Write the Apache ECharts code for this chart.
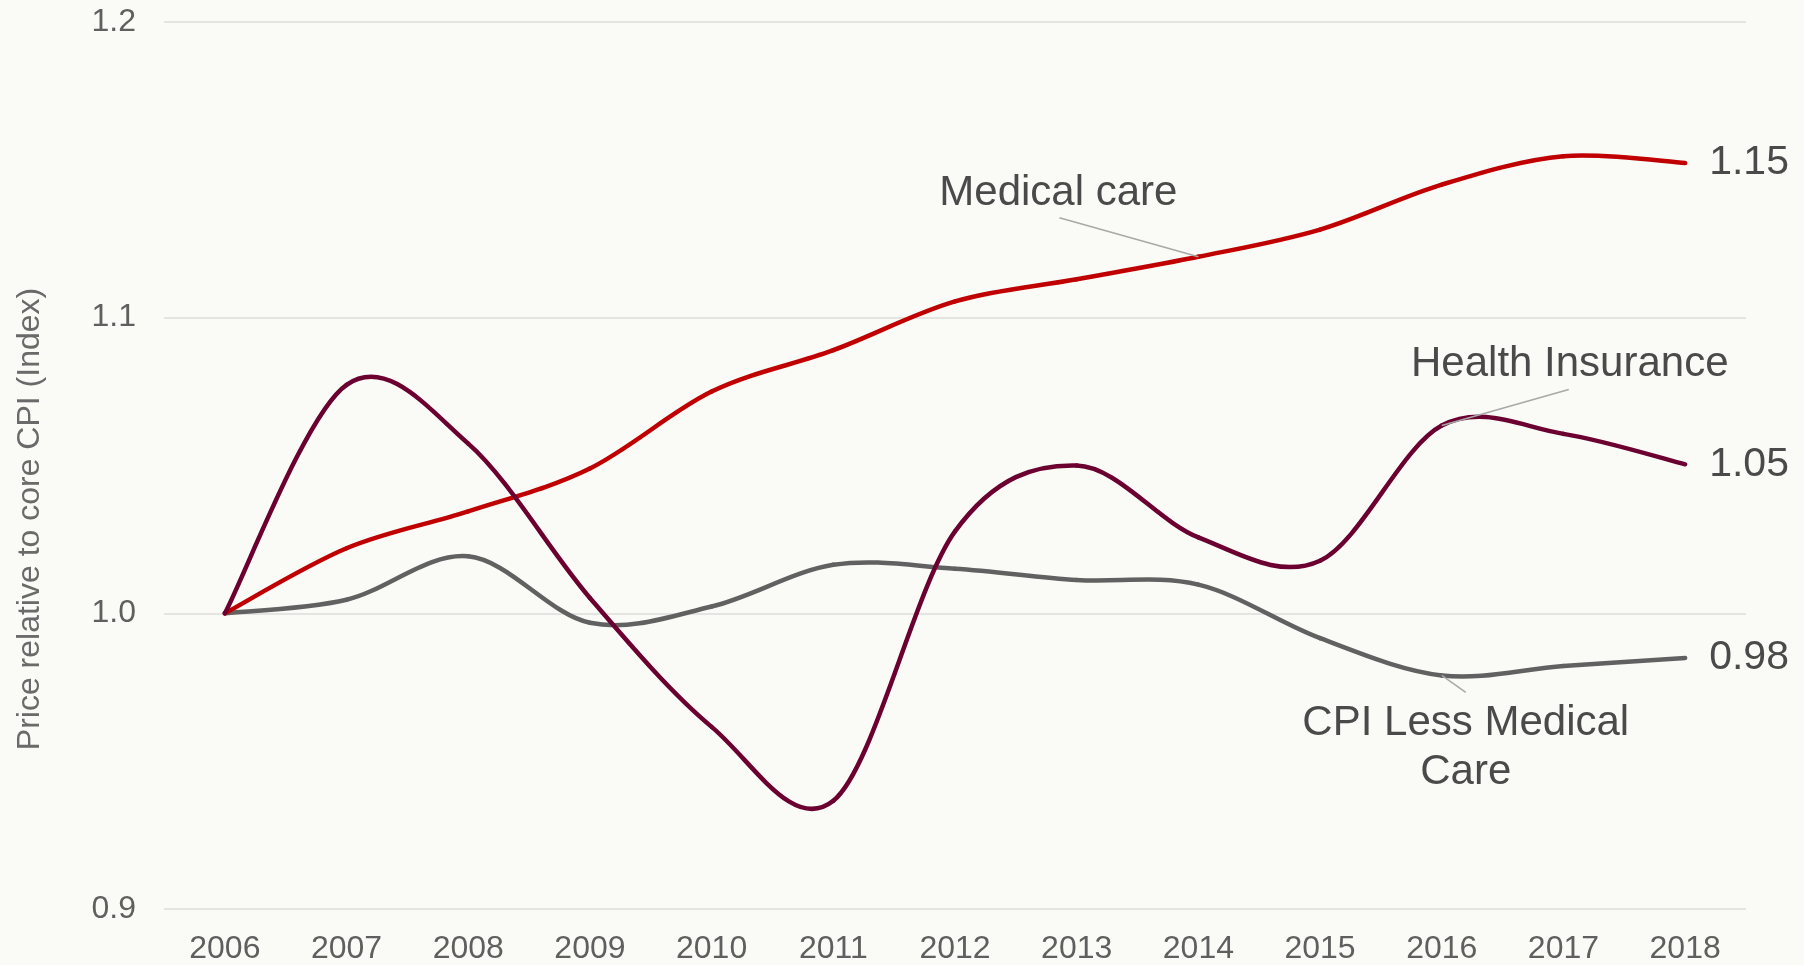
<!DOCTYPE html>
<html>
<head>
<meta charset="utf-8">
<title>Price relative to core CPI</title>
<script src="https://cdn.jsdelivr.net/npm/echarts@6/dist/echarts.min.js"></script>
<style>
  html, body { margin: 0; padding: 0; background: #fafbf6; }
  #main { width: 1804px; height: 965px; }
</style>
</head>
<body>
<div id="main"></div>
<script>
  // categories
  var years = ['2006', '2007', '2008', '2009', '2010', '2011', '2012',
               '2013', '2014', '2015', '2016', '2017', '2018'];
  // series values
  var medicalCare     = [1.000, 1.022, 1.0345, 1.049, 1.075, 1.089, 1.1055, 1.113, 1.1206, 1.1298, 1.145, 1.1546, 1.1523];
  var healthInsurance = [1.000, 1.0773, 1.0574, 1.0052, 0.9616, 0.9366, 1.0277, 1.050, 1.0257, 1.0178, 1.0635, 1.0607, 1.0504];
  var cpiLessMedical  = [1.000, 1.0046, 1.0193, 0.9968, 1.0023, 1.0164, 1.0151, 1.0113, 1.0097, 0.9916, 0.979, 0.9822, 0.9849];
  // y axis ticks
  var yMin = 0.9, yMax = 1.2, yStep = 0.1;

  var FONT = '"Liberation Sans", Arial, sans-serif';
  var TICK_COLOR = '#5f5f5f';
  var TEXT_COLOR = '#4a4a4a';

  var chart = echarts.init(document.getElementById('main'));

  // Excel-style smoothed line: one bezier segment per point, Catmull-Rom handles (1/6),
  // end value label on the last point
  function smoothSeries(name, values, color, z) {
    return {
      name: name,
      type: 'custom',
      z: z,
      data: values.map(function (v, i) { return [i, v]; }),
      encode: { x: 0, y: 1 },
      renderItem: function (params, api) {
        var n = params.dataInsideLength, i = params.dataIndexInside;
        function pt(k) {
          k = Math.max(0, Math.min(n - 1, k));
          return api.coord([api.value(0, k), api.value(1, k)]);
        }
        var p1 = pt(i);
        if (i >= n - 1) {
          return {
            type: 'text', x: p1[0] + 24, y: p1[1],
            style: {
              text: api.value(1).toFixed(2), fill: TEXT_COLOR,
              font: '41px ' + FONT, align: 'left', verticalAlign: 'middle'
            }
          };
        }
        var p0 = pt(i - 1), p2 = pt(i + 1), p3 = pt(i + 2);
        return {
          type: 'bezierCurve',
          shape: {
            x1: p1[0], y1: p1[1], x2: p2[0], y2: p2[1],
            cpx1: p1[0] + (p2[0] - p0[0]) / 6, cpy1: p1[1] + (p2[1] - p0[1]) / 6,
            cpx2: p2[0] - (p3[0] - p1[0]) / 6, cpy2: p2[1] - (p3[1] - p1[1]) / 6
          },
          style: { fill: 'none', stroke: color, lineWidth: 4.5, lineCap: 'round' }
        };
      }
    };
  }

  chart.setOption({
    backgroundColor: '#fafbf6',
    animation: false,
    grid: { left: 164, right: 58, top: 22, bottom: 56 },
    xAxis: {
      type: 'category',
      data: years,
      boundaryGap: true,
      axisLine: { show: false },
      axisTick: { show: false },
      axisLabel: { color: TICK_COLOR, fontFamily: FONT, fontSize: 32, margin: 24 }
    },
    yAxis: {
      type: 'value',
      min: yMin,
      max: yMax,
      interval: yStep,
      axisLine: { show: false },
      axisTick: { show: false },
      axisLabel: {
        color: TICK_COLOR, fontFamily: FONT, fontSize: 32, margin: 28,
        formatter: function (v) { return v.toFixed(1); }
      },
      splitLine: { lineStyle: { color: '#dcdcdc', width: 1.5 } }
    },
    series: [
      smoothSeries('CPI Less Medical Care', cpiLessMedical, '#616161', 2),
      smoothSeries('Medical care', medicalCare, '#c00000', 3),
      smoothSeries('Health Insurance', healthInsurance, '#6b0030', 4)
    ]
  });

  // annotations with leader lines, anchored on data points
  function anchor(data, i) {
    return chart.convertToPixel({ gridIndex: 0 }, [years[i], data[i]]);
  }
  function note(text, x, y) {
    return {
      type: 'text', x: x, y: y, z: 10,
      style: {
        text: text, fill: TEXT_COLOR, font: '42px ' + FONT,
        align: 'center', verticalAlign: 'middle', lineHeight: 49
      }
    };
  }
  function leader(x1, y1, x2, y2) {
    return {
      type: 'line', z: 11,
      shape: { x1: x1, y1: y1, x2: x2, y2: y2 },
      style: { stroke: '#a8a8a8', lineWidth: 1.5 }
    };
  }

  var a1 = anchor(medicalCare, 8);
  var a2 = anchor(healthInsurance, 10);
  var a3 = anchor(cpiLessMedical, 10);

  chart.setOption({
    graphic: [
      {
        type: 'text', x: 30, y: 519, rotation: Math.PI / 2,
        style: {
          text: 'Price relative to core CPI (Index)', fill: '#6a6a6a',
          font: '32px ' + FONT, align: 'center', verticalAlign: 'middle'
        }
      },
      note('Medical care', a1[0] - 140, a1[1] - 63),
      leader(a1[0] - 139, a1[1] - 39, a1[0], a1[1]),
      note('Health Insurance', a2[0] + 128, a2[1] - 61),
      leader(a2[0] + 127, a2[1] - 36, a2[0], a2[1]),
      note('CPI Less Medical\nCare', a3[0] + 24, a3[1] + 72),
      leader(a3[0], a3[1], a3[0] + 24, a3[1] + 17)
    ]
  });
</script>
</body>
</html>
